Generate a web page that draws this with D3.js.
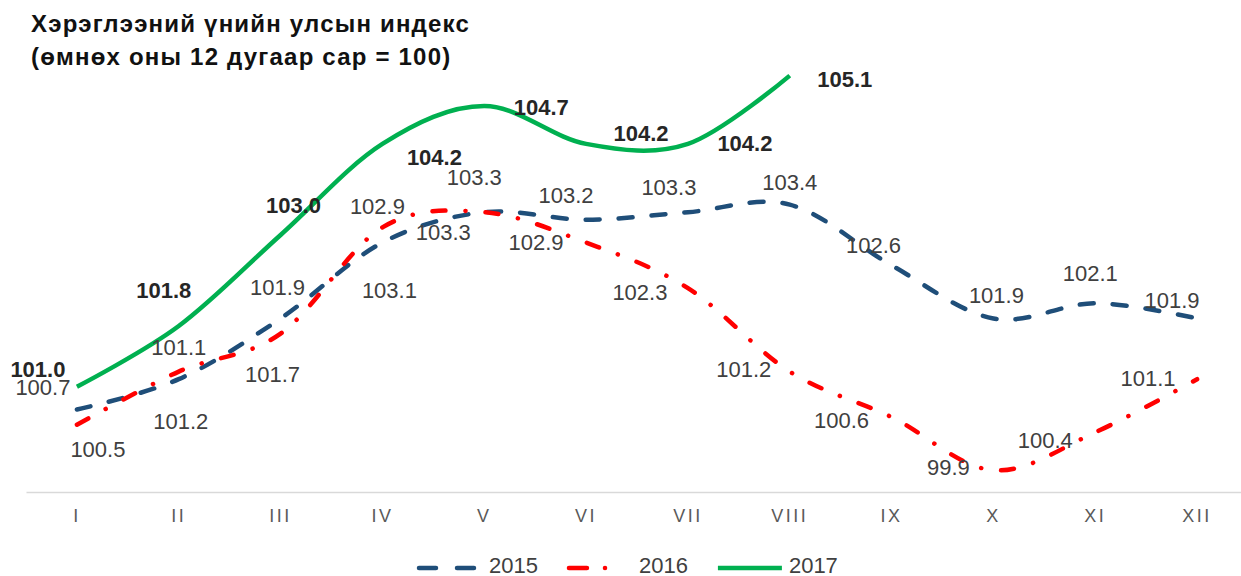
<!DOCTYPE html>
<html>
<head>
<meta charset="utf-8">
<title>Хэрэглээний үнийн улсын индекс</title>
<script src="https://cdn.jsdelivr.net/npm/d3@7"></script>
<style>
  body { margin: 0; background: #fff; }
  svg { display: block; font-family: "Liberation Sans", Arial, sans-serif; }
</style>
</head>
<body>
<script>

// months as roman numerals
var categories = ["I", "II", "III", "IV", "V", "VI", "VII", "VIII", "IX", "X", "XI", "XII"];

var years = ["2015", "2016", "2017"];

// index, previous December = 100
var values2015 = [100.7, 101.1, 101.9, 102.9, 103.3, 103.2, 103.3, 103.4, 102.6, 101.9, 102.1, 101.9];
var values2016 = [100.5, 101.2, 101.7, 103.1, 103.3, 102.9, 102.3, 101.2, 100.6, 99.9, 100.4, 101.1];
var values2017 = [101.0, 101.8, 103.0, 104.2, 104.7, 104.2, 104.2, 105.1];

var titleLines = ["Хэрэглээний үнийн улсын индекс", "(өмнөх оны 12 дугаар сар = 100)"];

// label nudges (px) to put the data labels where the original chart has them
var nudge2015 = [[-34,-22],[0,-32],[-3,-31],[-5,-36],[-10,-35],[-20,-25],[-19,-25],[0,-22],[-18,-20],[3,-23],[-5,-30],[-25,-18]];
var nudge2016 = [[21,25],[2,50],[-8,41],[7,63],[-41,20],[-50,0],[-48,4],[-46,-2],[-50,3],[-45,-3],[-50,8],[-49,-1]];
var nudge2017 = [[-39,-17],[-15,-36],[13,-30],[52,13],[57,1],[55,-11],[57,-1],[55,4]];

var width = 1241,
    height = 576;

var svg = d3.select("body").append("svg")
    .attr("width", width)
    .attr("height", height);

var x = d3.scaleBand()
    .domain(categories)
    .range([26, 1248]);

var y = d3.scaleLinear()
    .domain([99.62, 106])
    .range([491.5, 7.3]);

function cx(c) { return x(c) + x.bandwidth() / 2; }

var series = [
  {name: years[0], values: values2015, nudge: nudge2015, color: "#1F4E79", dash: "14,19", bold: false},
  {name: years[1], values: values2016, nudge: nudge2016, color: "#FF0000", dash: "13,20,0.1,20", bold: false},
  {name: years[2], values: values2017, nudge: nudge2017, color: "#00B050", dash: null, bold: true}
];

// title
svg.append("g").selectAll("text")
    .data(titleLines).enter()
  .append("text")
    .attr("x", 31)
    .attr("y", function(d, i) { return 32 + i * 33; })
    .attr("font-size", 24)
    .attr("font-weight", "bold")
    .attr("letter-spacing", "1.2px")
    .attr("fill", "#111")
    .text(function(d) { return d; });

// x axis
var xAxis = svg.append("g")
    .attr("transform", "translate(0,492)")
    .call(d3.axisBottom(x).tickSize(0).tickSizeOuter(0).tickPadding(17.5));

xAxis.select(".domain")
    .attr("stroke", "#d9d9d9")
    .attr("stroke-width", 1.5);

xAxis.selectAll("text")
    .attr("font-family", "\"Liberation Sans\", Arial, sans-serif")
    .attr("font-size", 18)
    .attr("letter-spacing", "2.5px")
    .attr("fill", "#595959");

var line = d3.line()
    .x(function(d, i) { return cx(categories[i]); })
    .y(function(d) { return y(d); })
    .curve(d3.curveCardinal.tension(0));

// lines
svg.append("g").selectAll("path")
    .data(series).enter()
  .append("path")
    .attr("d", function(s) { return line(s.values); })
    .attr("fill", "none")
    .attr("stroke", function(s) { return s.color; })
    .attr("stroke-width", 4.5)
    .attr("stroke-linecap", function(s) { return s.dash ? "round" : "butt"; })
    .attr("stroke-dasharray", function(s) { return s.dash; });

// data labels
series.forEach(function(s) {
  svg.append("g").selectAll("text")
      .data(s.values).enter()
    .append("text")
      .attr("x", function(d, i) { return cx(categories[i]) + s.nudge[i][0]; })
      .attr("y", function(d, i) { return y(d) + s.nudge[i][1]; })
      .attr("dy", "0.35em")
      .attr("text-anchor", "middle")
      .attr("font-size", 22)
      .attr("font-weight", s.bold ? "bold" : "normal")
      .attr("fill", s.bold ? "#262626" : "#404040")
      .text(function(d) { return d3.format(".1f")(d); });
});

// legend
var legendDash = ["17,21", "18,18,0.1,40", null];
var legendX = 417;

var legend = svg.append("g")
    .attr("transform", "translate(0,568)");

series.forEach(function(s, i) {
  var g = legend.append("g")
      .attr("transform", "translate(" + legendX + ",0)");

  g.append("line")
      .attr("x1", s.dash ? 2 : 1)
      .attr("x2", s.dash ? 58 : 65)
      .attr("stroke", s.color)
      .attr("stroke-width", 4.5)
      .attr("stroke-linecap", s.dash ? "round" : "butt")
      .attr("stroke-dasharray", legendDash[i]);

  var t = g.append("text")
      .attr("x", 72)
      .attr("y", -3)
      .attr("dy", "0.35em")
      .attr("font-size", 22)
      .attr("fill", "#404040")
      .text(s.name);

  legendX += 72 + t.node().getComputedTextLength() + 29;
});

</script>
</body>
</html>
